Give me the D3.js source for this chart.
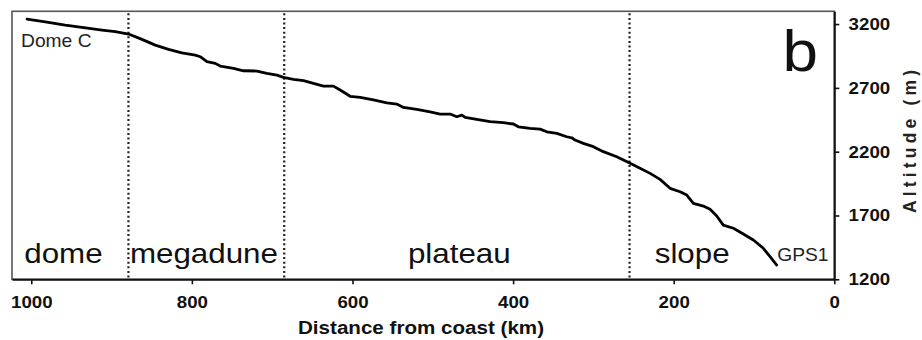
<!DOCTYPE html>
<html>
<head>
<meta charset="utf-8">
<script src="https://cdn.jsdelivr.net/npm/d3@7"></script>
<style>
  html, body { margin: 0; padding: 0; background: #fff; }
  svg { display: block; font-family: "Liberation Sans", Arial, sans-serif; }
</style>
</head>
<body>
<svg id="chart" width="922" height="340"></svg>
<script>
// Surface profile from Dome C to the coast (GPS1 end point)
const distanceKm = [1005.3, 982.6, 957.7, 936.9, 912.0, 895.4, 878.9, 862.2, 845.6, 829.1,
  812.4, 795.8, 789.6, 781.3, 770.9, 764.7, 748.2, 735.7, 719.0, 706.6,
  694.1, 685.9, 673.5, 661.0, 648.6, 636.1, 623.7, 615.3, 602.9, 590.4,
  573.9, 557.2, 544.8, 536.5, 519.9, 503.3, 490.9, 478.4, 470.1, 463.8,
  459.7, 445.2, 428.6, 412.0, 399.6, 393.4, 378.8, 366.4, 358.0, 345.6,
  333.1, 326.9, 322.8, 312.5, 300.0, 287.6, 270.9, 254.3, 241.9, 229.4,
  217.0, 204.5, 192.1, 183.7, 175.5, 163.1, 154.7, 146.4, 138.2, 125.7,
  113.3, 100.8, 88.4, 80.0, 71.7];
const altitudeM = [3239, 3218, 3192, 3174, 3153, 3140, 3122, 3080, 3035, 3002,
  2975, 2957, 2944, 2905, 2892, 2871, 2853, 2834, 2832, 2814,
  2800, 2782, 2767, 2756, 2735, 2714, 2714, 2683, 2634, 2626,
  2605, 2583, 2573, 2547, 2532, 2511, 2495, 2495, 2474, 2487,
  2469, 2453, 2435, 2427, 2417, 2395, 2383, 2377, 2356, 2344,
  2317, 2309, 2291, 2265, 2239, 2200, 2160, 2109, 2070, 2030,
  1983, 1913, 1886, 1860, 1795, 1774, 1748, 1696, 1625, 1600,
  1555, 1508, 1443, 1377, 1312];

// Zone boundaries (km from coast) and zone names
const zoneBoundsKm = [879, 685, 255];
const zoneNames = ["dome", "megadune", "plateau", "slope"];
const zoneNameKm = [960, 785, 467, 177];

const xTicks = [1000, 800, 600, 400, 200, 0];
const yTicks = [1200, 1700, 2200, 2700, 3200];

const svg = d3.select("#chart");
const plotL = 12, plotR = 834.3, plotT = 11.3, plotB = 279.3;

const x = d3.scaleLinear().domain([1024, 0]).range([plotL, plotR]);
const y = d3.scaleLinear().domain([1200, 3300]).range([plotB, plotT]);

const ink = "#111";
const stretch = "scale(1.1,1)";
const fmt = d3.format("d");

// frame
svg.append("rect")
  .attr("x", plotL).attr("y", plotT)
  .attr("width", plotR - plotL).attr("height", plotB - plotT)
  .attr("fill", "none").attr("stroke", "#555").attr("stroke-width", 1.6);

// zone boundaries
svg.append("g").selectAll("line").data(zoneBoundsKm).join("line")
  .attr("x1", d => x(d)).attr("x2", d => x(d))
  .attr("y1", plotT + 2).attr("y2", plotB)
  .attr("stroke", "#222").attr("stroke-width", 2.2)
  .attr("stroke-dasharray", "2,2.6");

// zone names
svg.append("g").selectAll("text").data(zoneNames).join("text")
  .attr("transform", (d, i) => `translate(${x(zoneNameKm[i])},263) ${stretch}`)
  .attr("text-anchor", "middle")
  .attr("font-size", 28.5)
  .attr("fill", ink)
  .text(d => d);

// profile
const pts = distanceKm.map((d, i) => [d, altitudeM[i]]);
svg.append("path")
  .datum(pts)
  .attr("fill", "none")
  .attr("stroke", "#000")
  .attr("stroke-width", 2.8)
  .attr("stroke-linejoin", "round")
  .attr("stroke-linecap", "round")
  .attr("d", d3.line().x(d => x(d[0])).y(d => y(d[1])));

// end point names
const first = pts[0], last = pts[pts.length - 1];
svg.append("text")
  .attr("transform", `translate(${x(first[0]) - 6},${y(first[1]) + 27.5}) ${stretch}`)
  .attr("font-size", 17.5).attr("fill", "#222")
  .text("Dome C");
svg.append("text")
  .attr("transform", `translate(${x(last[0]) + 0.5},${y(last[1]) - 4.5}) ${stretch}`)
  .attr("font-size", 17.5).attr("fill", "#222")
  .text("GPS1");

// panel letter
svg.append("text")
  .attr("transform", `translate(${plotR - 34},${plotT + 60}) ${stretch}`)
  .attr("text-anchor", "middle")
  .attr("font-size", 58).attr("fill", ink)
  .text("b");

// x axis
const gx = svg.append("g")
  .attr("transform", `translate(0,${plotB})`)
  .call(d3.axisBottom(x).tickValues(xTicks).tickFormat(fmt)
    .tickSize(5).tickPadding(12).tickSizeOuter(0));
gx.select(".domain").attr("stroke", ink).attr("stroke-width", 2);
gx.selectAll(".tick line").attr("stroke", ink).attr("stroke-width", 1.6);
gx.selectAll(".tick text")
  .attr("transform", stretch)
  .attr("font-family", "Liberation Sans, Arial, sans-serif")
  .attr("font-size", 17).attr("font-weight", "bold").attr("fill", ink);

// y axis on the right
const gy = svg.append("g")
  .attr("transform", `translate(${plotR},0)`)
  .call(d3.axisRight(y).tickValues(yTicks).tickFormat(fmt)
    .tickSize(5).tickPadding(8).tickSizeOuter(0));
gy.select(".domain").attr("stroke", ink).attr("stroke-width", 2);
gy.selectAll(".tick line").attr("stroke", ink).attr("stroke-width", 1.6);
gy.selectAll(".tick text")
  .attr("transform", stretch)
  .attr("font-family", "Liberation Sans, Arial, sans-serif")
  .attr("font-size", 17).attr("font-weight", "bold").attr("fill", ink);

// axis titles
svg.append("text")
  .attr("x", 421).attr("y", 333.5)
  .attr("text-anchor", "middle")
  .attr("font-size", 17.5).attr("font-weight", "bold").attr("fill", ink)
  .attr("textLength", 246).attr("lengthAdjust", "spacingAndGlyphs")
  .text("Distance from coast (km)");
svg.append("text")
  .attr("transform", "translate(916,141.5) rotate(-90)")
  .attr("text-anchor", "middle")
  .attr("font-size", 17.5).attr("font-weight", "bold").attr("fill", "#222")
  .attr("textLength", 143).attr("lengthAdjust", "spacing")
  .text("Altitude (m)");
</script>
</body>
</html>
